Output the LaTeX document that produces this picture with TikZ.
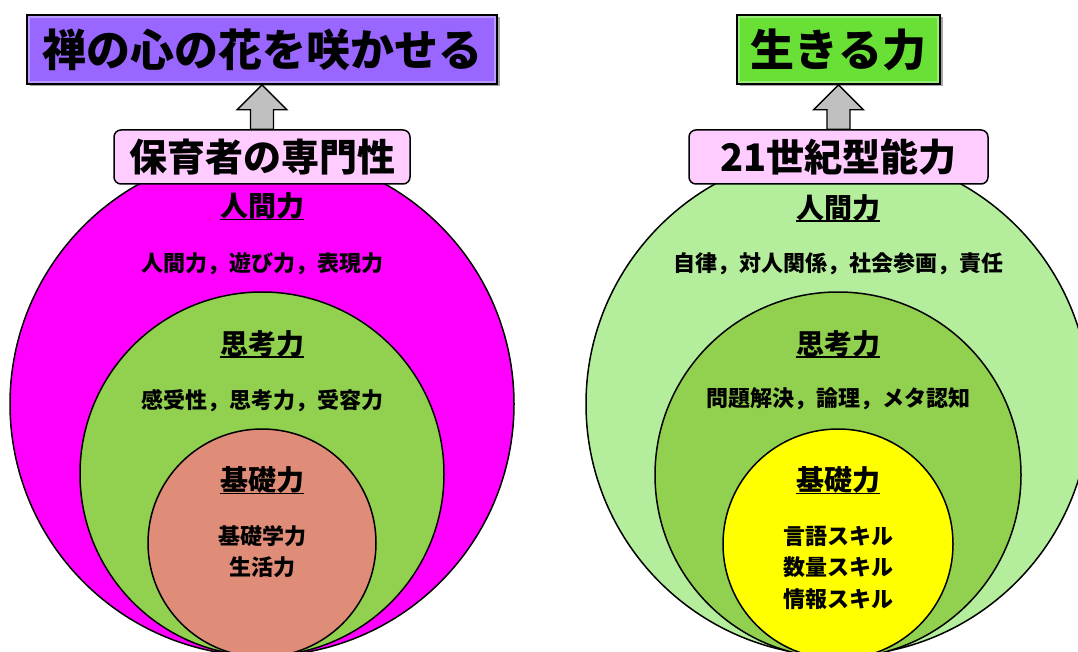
\documentclass[tikz,border=0pt]{standalone}
\usepackage{fontspec}
\setmainfont{Noto Sans CJK JP}
\usetikzlibrary{calc,shadows}
\definecolor{cmag}{HTML}{FF00FF}
\definecolor{cmid}{HTML}{92D050}
\definecolor{csalmon}{HTML}{DF8C78}
\definecolor{clight}{HTML}{B4EE9C}
\definecolor{cyel}{HTML}{FFFF00}
\definecolor{cpurple}{HTML}{9966FF}
\definecolor{cpurplein}{HTML}{B99CFF}
\definecolor{cgreen}{HTML}{69E035}
\definecolor{cgreenin}{HTML}{9AEE78}
\definecolor{cpink}{HTML}{FFCCFF}
\definecolor{carrow}{HTML}{C0C0C0}
\tikzset{
  ring/.style={draw=black, line width=1.5pt},
  headtxt/.style={font=\bfseries\fontsize{28}{30}\selectfont, inner sep=0pt},
  subtxt/.style={font=\bfseries\fontsize{22}{24}\selectfont, inner sep=0pt, align=center},
  uline/.style={line width=1.8pt},
  titlebox/.style={draw=black, line width=1.6pt, minimum height=69pt, inner sep=0pt,
    font=\bfseries\fontsize{44}{48}\selectfont,
    drop shadow={shadow xshift=2.5pt, shadow yshift=-2.5pt, opacity=0.35, fill=black}},
  innerframe/.style={line width=2pt},
  pinkbox/.style={draw=black, line width=1.5pt, fill=cpink, rounded corners=7pt,
    minimum height=54pt, inner sep=0pt, font=\bfseries\fontsize{38}{40}\selectfont},
  blockarrow/.style={draw=black, line width=1.4pt, fill=carrow, line join=miter},
}
\begin{document}
\begin{tikzpicture}[x=1pt,y=-1pt]
\useasboundingbox (0,0) rectangle (1078,652);
\begin{scope}
\clip (0,0) rectangle (1078,652);
% left circles
\filldraw[ring, fill=cmag] (262,404) circle [radius=252];
\filldraw[ring, fill=cmid] (262,474) circle [radius=182];
\filldraw[ring, fill=csalmon] (262,543) circle [radius=114];
% right circles
\filldraw[ring, fill=clight] (838,404) circle [radius=252];
\filldraw[ring, fill=cmid] (838,475) circle [radius=183];
\filldraw[ring, fill=cyel] (838,544) circle [radius=115];
\end{scope}

% left texts
\node[headtxt] (lh1) at (262,206) {人間力};
\node[subtxt] (ls1) at (262,264) {人間力，遊び力，表現力};
\node[headtxt] (lh2) at (262,343.5) {思考力};
\node[subtxt] (ls2) at (262,401) {感受性，思考力，受容力};
\node[headtxt] (lh3) at (262,480) {基礎力};
\node[subtxt] (ls3a) at (262,536) {基礎学力};
\node[subtxt] (ls3b) at (262,567) {生活力};
\foreach \n in {lh1,lh2,lh3}
  \draw[uline] ([yshift=-13.5pt]\n.west) -- ([yshift=-13.5pt]\n.east);

% right texts
\node[headtxt] (rh1) at (838,207.5) {人間力};
\node[subtxt] (rs1) at (838,263.5) {自律，対人関係，社会参画，責任};
\node[headtxt] (rh2) at (838,343.5) {思考力};
\node[subtxt] (rs2) at (838,399) {問題解決，論理，メタ認知};
\node[headtxt] (rh3) at (838,480) {基礎力};
\node[subtxt] (rs3a) at (838,536) {言語スキル};
\node[subtxt] (rs3b) at (838,567) {数量スキル};
\node[subtxt] (rs3c) at (838,599) {情報スキル};
\foreach \n in {rh1,rh2,rh3}
  \draw[uline] ([yshift=-13.5pt]\n.west) -- ([yshift=-13.5pt]\n.east);

% pink boxes
\node[pinkbox, minimum width=296pt] (p1) at (262,157) {保育者の専門性};
\node[pinkbox, minimum width=299pt] (p2) at (838.5,157) {21世紀型能力};

% title boxes
\node[titlebox, fill=cpurple, minimum width=470pt] (t1) at (262,49.5) {禅の心の花を咲かせる};
\draw[innerframe, cpurplein] ([xshift=2.8pt,yshift=-2.8pt]t1.north west) rectangle ([xshift=-2.8pt,yshift=2.8pt]t1.south east);
\node[titlebox, fill=cgreen, minimum width=203pt] (t2) at (838.5,49.5) {生きる力};
\draw[innerframe, cgreenin] ([xshift=2.8pt,yshift=-2.8pt]t2.north west) rectangle ([xshift=-2.8pt,yshift=2.8pt]t2.south east);

% arrows
\path (t1.south) ++(0,25) coordinate (a1h);
\draw[blockarrow] ($(p1.north)+(-11.5,0)$) -- ($(a1h)+(-11.5,0)$) -- ($(a1h)+(-25,0)$) -- (t1.south) -- ($(a1h)+(25,0)$) -- ($(a1h)+(11.5,0)$) -- ($(p1.north)+(11.5,0)$) -- cycle;
\path (t2.south) ++(0,25) coordinate (a2h);
\draw[blockarrow] ($(p2.north)+(-11.5,0)$) -- ($(a2h)+(-11.5,0)$) -- ($(a2h)+(-25,0)$) -- (t2.south) -- ($(a2h)+(25,0)$) -- ($(a2h)+(11.5,0)$) -- ($(p2.north)+(11.5,0)$) -- cycle;
\end{tikzpicture}
\end{document}
